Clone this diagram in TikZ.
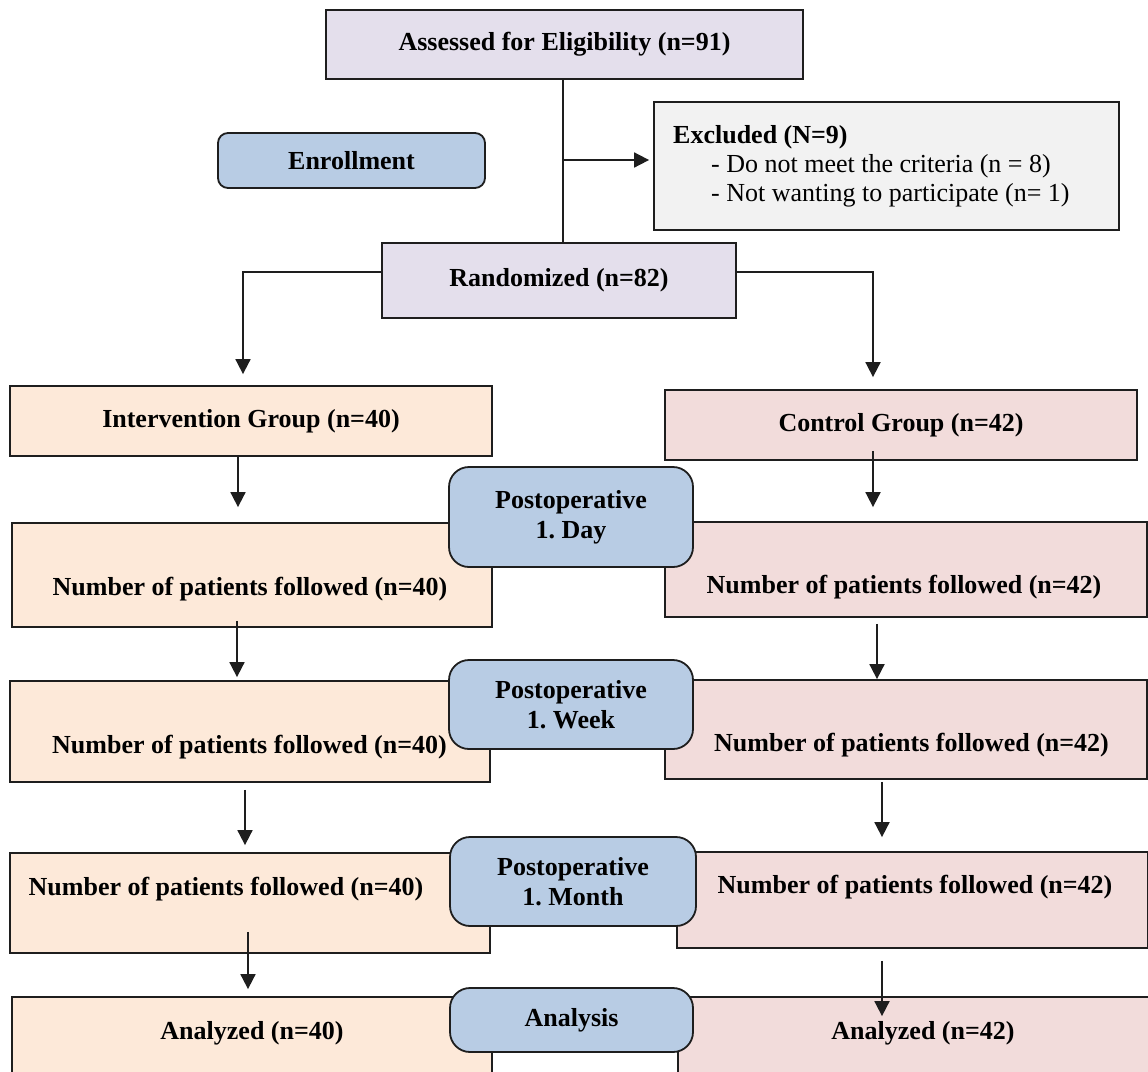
\documentclass[tikz,border=0pt]{standalone}
\usepackage{fontspec}
\setmainfont{Liberation Serif}
\frenchspacing
\usetikzlibrary{arrows.meta,positioning}
\definecolor{conslav}{HTML}{E4DFEC}
\definecolor{consgrey}{HTML}{F2F2F2}
\definecolor{consblue}{HTML}{B8CCE4}
\definecolor{conspeach}{HTML}{FDE9D9}
\definecolor{conspink}{HTML}{F2DCDB}
\definecolor{consedge}{HTML}{1E1E1E}
\tikzset{
  cons font/.style={font=\fontsize{26}{30}\selectfont\bfseries},
  cons box/.style={draw=consedge,line width=1.8pt,inner sep=0pt,cons font},
  cons lav/.style={cons box,fill=conslav},
  cons grey/.style={cons box,fill=consgrey},
  cons int/.style={cons box,fill=conspeach},
  cons ctl/.style={cons box,fill=conspink},
  cons stage/.style={cons box,fill=consblue,rounded corners=20pt,align=center},
  cons text/.style={cons font,inner sep=0pt},
  cons line/.style={draw=consedge,line width=1.8pt},
  cons arrow/.style={cons line,-{Triangle[length=15pt,width=15pt]}}
}

\begin{document}
\begin{tikzpicture}[x=1pt,y=-1pt]
  \clip (0,0) rectangle (1148,1071);
  \fill[white] (0,0) rectangle (1148,1071);

  % enrollment
  \node[cons lav,minimum width=477pt,minimum height=69pt] (assess) at (564.5,44.5) {Assessed for Eligibility (n=91)};
  \node[cons grey,minimum width=465pt,minimum height=128pt] (excl) at (886.5,166) {};
  \node[cons text,anchor=west,align=left,font=\fontsize{26}{29}\selectfont] (texcl) at (673,166)
    {\textbf{Excluded (N=9)}\\\hspace{38pt}- Do not meet the criteria (n = 8)\\\hspace{38pt}- Not wanting to participate (n= 1)};
  \node[cons stage,rounded corners=10pt,minimum width=267pt,minimum height=55pt] (enrol) at (351.5,160.5) {Enrollment};
  \node[cons lav,minimum width=354pt,minimum height=75pt] (rand) at (559,280.5) {Randomized (n=82)};

  \draw[cons line] ([xshift=-1.5pt]assess.south) -- ([xshift=-1.5pt]assess.south |- rand.north);
  \coordinate (split) at (563,160);
  \draw[cons arrow,shorten >=4pt] (split) -- (split -| excl.west);

  % groups
  \node[cons int,minimum width=482pt,minimum height=70pt] (igrp) at (251,421) {Intervention Group (n=40)};
  \node[cons ctl,minimum width=472pt,minimum height=70pt] (cgrp) at (901,425) {Control Group (n=42)};
  \draw[cons arrow,shorten >=11pt] ([yshift=8.5pt]rand.west) -| ([xshift=-8pt]igrp.north);
  \draw[cons arrow,shorten >=12pt] ([yshift=8.5pt]rand.east) -| ([xshift=-28pt]cgrp.north);

  % follow-up
  \node[cons int,minimum width=480pt,minimum height=104pt] (ifol1) at (252,575) {};
  \node[cons ctl,minimum width=482pt,minimum height=95pt] (cfol1) at (906,569.5) {};
  \node[cons int,minimum width=480pt,minimum height=101pt] (ifol2) at (250,731.5) {};
  \node[cons ctl,minimum width=482pt,minimum height=99pt] (cfol2) at (906,729.5) {};
  \node[cons int,minimum width=480pt,minimum height=100pt] (ifol3) at (250,903) {};
  \node[cons ctl,minimum width=471pt,minimum height=96pt] (cfol3) at (912.5,900) {};
  \node[cons int,minimum width=480pt,minimum height=103pt] (ianl) at (252,1048.5) {};
  \node[cons ctl,minimum width=482pt,minimum height=103pt] (canl) at (919,1048.5) {};

  \node[cons text] (tifol1) at (250,589) {Number of patients followed (n=40)};
  \node[cons text] (tcfol1) at (904,587) {Number of patients followed (n=42)};
  \node[cons text] (tifol2) at (249.5,747) {Number of patients followed (n=40)};
  \node[cons text] (tcfol2) at (911.5,745) {Number of patients followed (n=42)};
  \node[cons text] (tifol3) at (226,889) {Number of patients followed (n=40)};
  \node[cons text] (tcfol3) at (915,887) {Number of patients followed (n=42)};
  \node[cons text] (tianl) at (252,1033) {Analyzed (n=40)};
  \node[cons text] (tcanl) at (923,1033) {Analyzed (n=42)};

  % stages
  \node[cons stage,minimum width=244pt,minimum height=100pt] (pday) at (571,517) {Postoperative\\1. Day};
  \node[cons stage,minimum width=244pt,minimum height=89pt] (pweek) at (571,704.5) {Postoperative\\1. Week};
  \node[cons stage,minimum width=246pt,minimum height=89pt] (pmonth) at (573,881.5) {Postoperative\\1. Month};
  \node[cons stage,minimum width=243pt,minimum height=64pt] (panl) at (571.5,1020) {Analysis};

  \foreach \a/\b/\dx/\s/\e in {igrp/ifol1/-13/0/15, cgrp/cfol1/-28/-10/14,
      ifol1/ifol2/-15/-7/3, cfol1/cfol2/-29/6/0,
      ifol2/ifol3/-5/7/7, cfol2/cfol3/-24/2/14,
      ifol3/ianl/-2/-22/7, cfol3/canl/-30.5/12/-20}
    \draw[cons arrow,shorten <=\s pt,shorten >=\e pt]
      ([xshift=\dx pt]\a.south) -- ([xshift=\dx pt]\a.south |- \b.north);
\end{tikzpicture}
\end{document}
